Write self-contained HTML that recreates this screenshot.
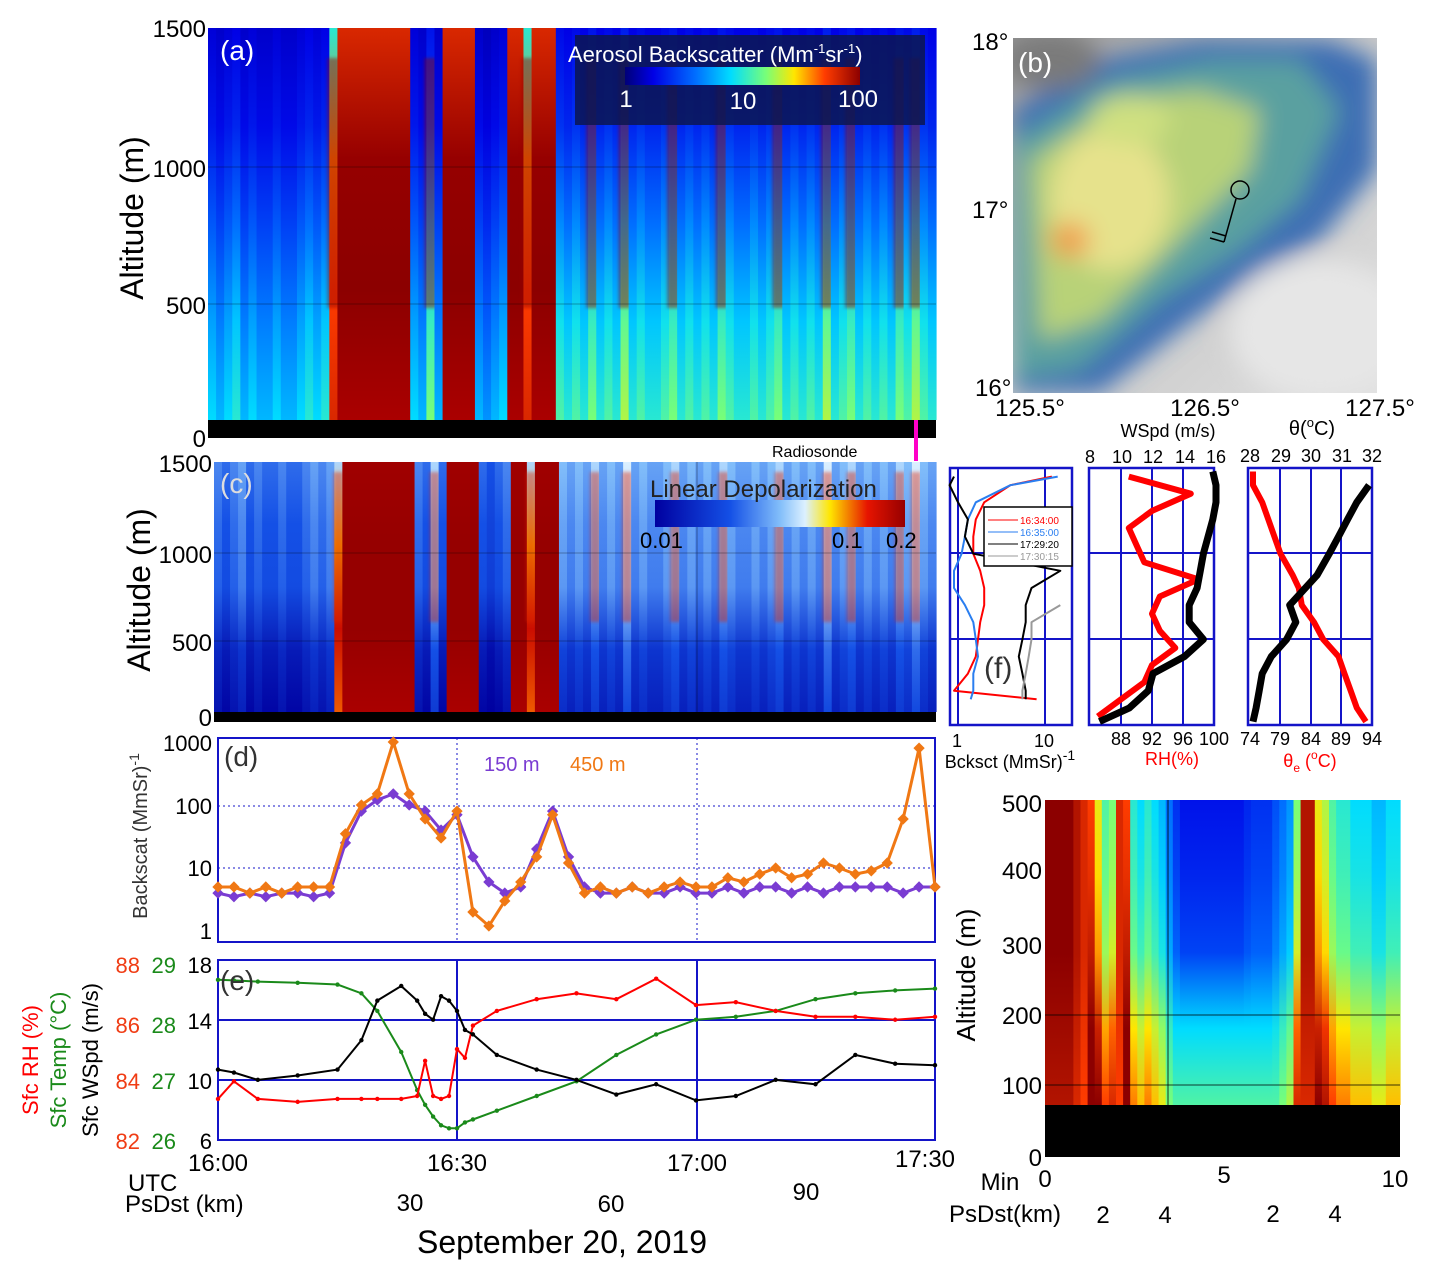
<!DOCTYPE html>
<html><head><meta charset="utf-8"><style>
body{margin:0;background:#fff;}
svg text{font-family:"Liberation Sans","DejaVu Sans",sans-serif;}
</style></head><body>
<svg id="fig" width="1430" height="1276" xmlns="http://www.w3.org/2000/svg">
<defs>
<filter id="blur" x="-20%" y="-20%" width="140%" height="140%"><feGaussianBlur stdDeviation="12"/></filter>
<filter id="sblur" x="-50%" y="-10%" width="200%" height="120%"><feGaussianBlur stdDeviation="1.5"/></filter>
<clipPath id="mapclip"><rect x="1013" y="38" width="364" height="355"/></clipPath>
<linearGradient id="jetbar" x1="0" x2="1" y1="0" y2="0">
<stop offset="0" stop-color="#000078"/><stop offset="0.12" stop-color="#0000e6"/><stop offset="0.3" stop-color="#006eff"/><stop offset="0.45" stop-color="#00dcff"/><stop offset="0.6" stop-color="#78ff78"/><stop offset="0.72" stop-color="#ffe600"/><stop offset="0.85" stop-color="#ff3c00"/><stop offset="1" stop-color="#8c0000"/></linearGradient>
<linearGradient id="depbar" x1="0" x2="1" y1="0" y2="0">
<stop offset="0" stop-color="#0000a0"/><stop offset="0.3" stop-color="#1450e6"/><stop offset="0.5" stop-color="#82befa"/><stop offset="0.6" stop-color="#dcf0ff"/><stop offset="0.7" stop-color="#ffe600"/><stop offset="0.85" stop-color="#e61400"/><stop offset="1" stop-color="#960000"/></linearGradient>
<linearGradient id="graybg" x1="0" x2="1" y1="0" y2="1"><stop offset="0" stop-color="#9a9a9a"/><stop offset="0.5" stop-color="#c8c8c8"/><stop offset="1" stop-color="#e0e0e0"/></linearGradient>
</defs>

<!-- Panel a -->
<g id="pa"></g>
<rect x="208" y="420" width="728" height="18" fill="#000"/>
<g stroke="#000" stroke-width="0.6" opacity="0.6">
<line x1="208" x2="936" y1="167" y2="167"/><line x1="208" x2="936" y1="304" y2="304"/>
</g>
<g>
<rect x="575" y="35" width="350" height="90" fill="#0c1650" opacity="0.85"/>
<rect x="625" y="67" width="235" height="18" fill="url(#jetbar)"/>
<text x="568" y="62" font-size="22" fill="#fff">Aerosol Backscatter (Mm<tspan font-size="13" dy="-9">-1</tspan><tspan dy="9">sr</tspan><tspan font-size="13" dy="-9">-1</tspan><tspan dy="9">)</tspan></text>
<text x="626" y="107" font-size="24" fill="#fff" text-anchor="middle">1</text>
<text x="743" y="109" font-size="24" fill="#fff" text-anchor="middle">10</text>
<text x="858" y="107" font-size="24" fill="#fff" text-anchor="middle">100</text>
</g>
<text x="220" y="60" font-size="28" fill="#fff">(a)</text>
<g font-size="24" text-anchor="end">
<text x="206" y="37">1500</text><text x="206" y="177">1000</text><text x="206" y="314">500</text><text x="206" y="447">0</text></g>
<text transform="translate(143,218) rotate(-90)" font-size="32" text-anchor="middle">Altitude (m)</text>
<line x1="916" x2="916" y1="420" y2="461" stroke="#ff00c8" stroke-width="4"/>
<text x="772" y="457" font-size="16">Radiosonde</text>

<!-- Panel b map -->
<g clip-path="url(#mapclip)">
<rect x="1013" y="38" width="364" height="355" fill="url(#graybg)"/>
<g filter="url(#blur)">
<path d="M1013 110 L1100 60 L1200 40 L1330 40 L1377 60 L1377 170 L1320 240 L1260 270 L1180 330 L1100 393 L1013 393 Z" fill="#3c6eb4"/>
<path d="M1013 140 L1110 80 L1210 60 L1300 60 L1340 110 L1300 200 L1240 250 L1160 300 L1080 370 L1013 380 Z" fill="#5aa0a0"/>
<path d="M1030 160 L1120 100 L1200 90 L1260 110 L1250 170 L1180 240 L1100 320 L1040 340 Z" fill="#b8d278"/>
<ellipse cx="1110" cy="200" rx="60" ry="70" fill="#e6e28c"/>
<ellipse cx="1070" cy="240" rx="20" ry="18" fill="#f0a050"/>
<ellipse cx="1130" cy="120" rx="40" ry="25" fill="#cfe080"/>
<ellipse cx="1320" cy="330" rx="90" ry="70" fill="#e6e6e6"/>
<ellipse cx="1050" cy="60" rx="50" ry="30" fill="#7a7a7a"/>
</g>
</g>
<g fill="none" stroke="#000" stroke-width="1.5">
<circle cx="1240" cy="190" r="9"/><line x1="1236" y1="199" x2="1224" y2="242"/><line x1="1224" y1="242" x2="1210" y2="238"/><line x1="1226" y1="236" x2="1212" y2="232"/></g>
<text x="1018" y="72" font-size="28" fill="#fff">(b)</text>
<g font-size="24"><text x="972" y="50">18°</text><text x="972" y="218">17°</text><text x="975" y="396">16°</text></g>
<g font-size="24" text-anchor="middle"><text x="1030" y="416">125.5°</text><text x="1205" y="416">126.5°</text><text x="1380" y="416">127.5°</text></g>

<!-- Panel c -->
<g id="pc"></g>
<rect x="214" y="712" width="722" height="10" fill="#000"/>
<g stroke="#000" stroke-width="0.6" opacity="0.6">
<line x1="214" x2="936" y1="553" y2="553"/><line x1="214" x2="936" y1="641" y2="641"/><line x1="697" x2="697" y1="462" y2="722"/></g>
<g>
<rect x="655" y="500" width="250" height="27" fill="url(#depbar)"/>
<text x="650" y="497" font-size="24" fill="#222">Linear Depolarization</text>
<text x="640" y="548" font-size="22">0.01</text><text x="832" y="548" font-size="22">0.1</text><text x="886" y="548" font-size="22">0.2</text></g>
<text x="220" y="493" font-size="28" fill="#ddd">(c)</text>
<g font-size="24" text-anchor="end">
<text x="212" y="472">1500</text><text x="212" y="563">1000</text><text x="212" y="651">500</text><text x="212" y="726">0</text></g>
<text transform="translate(150,590) rotate(-90)" font-size="32" text-anchor="middle">Altitude (m)</text>

<!-- Panel f -->
<g id="pf"></g>
<g font-size="10">
<rect x="984" y="507" width="88" height="59" fill="#fff" stroke="#000" stroke-width="1.5"/>
<line x1="988" x2="1018" y1="520" y2="520" stroke="#f00"/><text x="1020" y="524" fill="#f00">16:34:00</text>
<line x1="988" x2="1018" y1="532" y2="532" stroke="#2a7ef0"/><text x="1020" y="536" fill="#2a7ef0">16:35:00</text>
<line x1="988" x2="1018" y1="544" y2="544" stroke="#000"/><text x="1020" y="548" fill="#000">17:29:20</text>
<line x1="988" x2="1018" y1="556" y2="556" stroke="#999"/><text x="1020" y="560" fill="#999">17:30:15</text></g>
<text x="984" y="678" font-size="30" fill="#333">(f)</text>
<g font-size="18" text-anchor="middle">
<text x="957" y="747">1</text><text x="1044" y="747">10</text>
<text x="1010" y="768" font-size="18">Bcksct (MmSr)<tspan font-size="14" dy="-8">-1</tspan></text>
<text x="1121" y="745">88</text><text x="1152" y="745">92</text><text x="1183" y="745">96</text><text x="1214" y="745">100</text>
<text x="1172" y="765" fill="#f00">RH(%)</text>
<text x="1090" y="463">8</text><text x="1122" y="463">10</text><text x="1153" y="463">12</text><text x="1185" y="463">14</text><text x="1216" y="463">16</text>
<text x="1168" y="437">WSpd (m/s)</text>
<text x="1250" y="462">28</text><text x="1281" y="462">29</text><text x="1311" y="462">30</text><text x="1342" y="462">31</text><text x="1372" y="462">32</text>
<text x="1312" y="435" font-size="20">θ(<tspan font-size="13" dy="-8">o</tspan><tspan dy="8">C)</tspan></text>
<text x="1250" y="745">74</text><text x="1280" y="745">79</text><text x="1311" y="745">84</text><text x="1341" y="745">89</text><text x="1372" y="745">94</text>
<text x="1310" y="767" fill="#f00">θ<tspan font-size="12" dy="5">e</tspan><tspan dy="-5"> (</tspan><tspan font-size="12" dy="-8">o</tspan><tspan dy="8">C)</tspan></text>
</g>

<!-- Panel d -->
<g id="pd"></g>
<g font-size="22" text-anchor="end">
<text x="212" y="751">1000</text><text x="212" y="814">100</text><text x="212" y="876">10</text><text x="212" y="939">1</text></g>
<text transform="translate(147,836) rotate(-90)" font-size="20" text-anchor="middle" fill="#333">Backscat (MmSr)<tspan font-size="14" dy="-8">-1</tspan></text>
<text x="224" y="766" font-size="28" fill="#333">(d)</text>
<text x="484" y="771" font-size="20" fill="#7a3cd2">150 m</text>
<text x="570" y="771" font-size="20" fill="#f07814">450 m</text>

<!-- Panel e -->
<g id="pe"></g>
<text x="220" y="990" font-size="28" fill="#333">(e)</text>
<g font-size="22">
<g text-anchor="end"><text x="212" y="973">18</text><text x="212" y="1029">14</text><text x="212" y="1089">10</text><text x="212" y="1149">6</text></g>
<g fill="#1a8a1a" text-anchor="end"><text x="176" y="973">29</text><text x="176" y="1033">28</text><text x="176" y="1089">27</text><text x="176" y="1149">26</text></g>
<g fill="#f03c14" text-anchor="end"><text x="140" y="973">88</text><text x="140" y="1033">86</text><text x="140" y="1089">84</text><text x="140" y="1149">82</text></g></g>
<text transform="translate(38,1060) rotate(-90)" font-size="22" fill="#f00" text-anchor="middle">Sfc RH (%)</text>
<text transform="translate(66,1060) rotate(-90)" font-size="22" fill="#1a8a1a" text-anchor="middle">Sfc Temp (°C)</text>
<text transform="translate(98,1060) rotate(-90)" font-size="22" fill="#000" text-anchor="middle">Sfc WSpd (m/s)</text>
<g font-size="24" text-anchor="middle">
<text x="218" y="1171">16:00</text><text x="457" y="1171">16:30</text><text x="697" y="1171">17:00</text><text x="925" y="1167">17:30</text></g>
<text x="128" y="1191" font-size="24">UTC</text>
<text x="125" y="1212" font-size="24">PsDst (km)</text>
<g font-size="24" text-anchor="middle"><text x="410" y="1211">30</text><text x="611" y="1212">60</text><text x="806" y="1200">90</text></g>
<text x="562" y="1253" font-size="32" text-anchor="middle">September 20, 2019</text>

<!-- Panel bottom right -->
<g id="pz"></g>
<rect x="1045" y="1105" width="355" height="52" fill="#000"/>
<g stroke="#000" stroke-width="0.8"><line x1="1045" x2="1400" y1="1015" y2="1015"/><line x1="1045" x2="1400" y1="1085" y2="1085"/><line x1="1168" x2="1168" y1="800" y2="1157"/></g>
<g font-size="24" text-anchor="end">
<text x="1042" y="812">500</text><text x="1042" y="879">400</text><text x="1042" y="954">300</text><text x="1042" y="1024">200</text><text x="1042" y="1094">100</text><text x="1042" y="1166">0</text></g>
<text transform="translate(975,975) rotate(-90)" font-size="26" text-anchor="middle">Altitude (m)</text>
<g font-size="24" text-anchor="middle"><text x="1045" y="1187">0</text><text x="1224" y="1183">5</text><text x="1395" y="1187">10</text>
<text x="1000" y="1190">Min</text><text x="1005" y="1222">PsDst(km)</text>
<text x="1103" y="1223">2</text><text x="1165" y="1223">4</text><text x="1273" y="1222">2</text><text x="1335" y="1222">4</text></g>
</svg>
<script>
const NS="http://www.w3.org/2000/svg";
// ---------- data ----------
const aColumns=[0.35,0.3,0.35,0.4,0.3,0.35,0.3,0.3,0.35,0.3,0.3,0.35,0.4,0.35,0.4,0.7,1,1,1,1,1,1,1,1,1,0.35,0.3,0.5,0.3,1,1,1,1,0.3,0.25,0.3,0.35,1,1,0.6,1,1,1,0.45,0.4,0.45,0.4,0.5,0.4,0.45,0.4,0.55,0.4,0.45,0.4,0.4,0.45,0.5,0.4,0.45,0.4,0.45,0.4,0.5,0.45,0.4,0.4,0.45,0.4,0.45,0.5,0.4,0.45,0.4,0.45,0.4,0.55,0.4,0.45,0.5,0.4,0.45,0.4,0.45,0.4,0.5,0.45,0.55,0.45,0.4];
const zoomColumns=[1,1,1,1,0.95,0.9,0.85,0.7,0.55,0.6,0.9,0.85,0.5,0.45,0.5,0.45,0.4,0.3,0.2,0.15,0.15,0.15,0.15,0.15,0.15,0.15,0.15,0.15,0.18,0.2,0.2,0.2,0.25,0.3,0.35,0.6,0.95,0.95,0.7,0.65,0.55,0.5,0.5,0.45,0.45,0.45,0.4,0.4,0.45,0.45];
const dTimes=[0,2,4,6,8,10,12,14,16,18,20,22,24,26,28,30,32,34,36,38,40,42,44,46,48,50,52,54,56,58,60,62,64,66,68,70,72,74,76,78,80,82,84,86,88,90];
const bs150=[4,3.5,4,3.5,4,4,3.5,4,25,80,120,150,100,80,40,70,15,6,4,5,20,80,15,5,4,4,5,4,4,5,4,4,5,4,5,5,4,5,4,5,5,5,5,4,5,5];
const bs450=[5,5,4,5,4,5,5,5,35,100,150,1000,150,60,30,80,2,1.2,3,6,15,70,12,4,5,4,5,4,5,6,5,5,7,6,8,10,7,8,12,10,8,9,12,60,800,5];
const eTimes=[0,2,5,10,15,18,20,23,25,26,27,28,29,30,31,32,35,40,45,50,55,60,65,70,75,80,85,90];
const sfcWspd=[10.8,10.6,10.1,10.4,10.8,12.8,15.5,16.5,15.5,14.6,14.2,15.8,15.5,14.8,13.5,13.2,11.8,10.8,10.1,9.1,9.8,8.7,9.0,10.1,9.8,11.8,11.2,11.1];
const sfcTemp=[28.73,28.72,28.7,28.68,28.65,28.5,28.2,27.5,26.85,26.6,26.4,26.25,26.2,26.2,26.3,26.35,26.5,26.75,27.0,27.45,27.8,28.05,28.1,28.2,28.4,28.5,28.55,28.58];
const sfcRH=[83.4,84.0,83.4,83.3,83.4,83.4,83.4,83.4,83.5,84.7,83.5,83.4,83.5,85.1,84.8,85.9,86.4,86.8,87.0,86.8,87.5,86.6,86.7,86.4,86.2,86.2,86.1,86.2];
const fAltBs=[150,200,300,400,500,600,700,800,900,1000,1100,1200,1300,1400,1450];
const bsRed=[8,0.9,1.3,1.6,1.7,1.8,2,2,1.8,1.5,1.5,1.6,2,4,12];
const bsBlue=[1.4,1.5,1.5,1.7,1.6,1.5,1.2,0.9,0.9,1.1,1.2,1.3,1.6,4,14];
const bsBlack=[6,6,5.5,5,5.5,6,6,7,15,1.5,1.2,1.3,1.0,0.8,0.9];
const fAltGray=[150,200,300,400,500,600,700];
const bsGray=[5.5,5.5,6,6.5,7,7,15];
const fAltRH=[50,150,250,350,450,550,650,750,850,950,1050,1150,1250,1350,1450];
const rhProfile=[85,88,91,92,95,93,92,93,98,91,90,89,92,97,89];
const fAltW=[20,100,200,300,400,500,600,700,800,900,1000,1100,1200,1300,1400,1480];
const wsProfile=[8.6,10.5,11.7,12,14,15.2,14.3,14.3,14.8,15,15.2,15.5,15.8,16,16,15.8];
const fAltTh=[20,100,200,300,400,500,600,700,875,1000,1100,1200,1300,1400];
const thetaProfile=[28.1,28.2,28.3,28.4,28.7,29.2,29.5,29.3,30.2,30.6,30.9,31.2,31.5,31.9];
const fAltThe=[20,100,200,300,400,500,600,700,800,875,1000,1100,1200,1300,1400,1480];
const thetaEProfile=[93,91.5,90.5,89.5,88.5,86,84.5,82.5,82,81,79,78,77,76,74.5,74.5];

// ---------- helpers ----------
function el(tag,attrs,parent){const e=document.createElementNS(NS,tag);for(const k in attrs)e.setAttribute(k,attrs[k]);parent.appendChild(e);return e;}
function interp(stops,v){v=Math.max(0,Math.min(1,v));for(let i=1;i<stops.length;i++){if(v<=stops[i][0]){const a=stops[i-1],b=stops[i],t=(v-a[0])/(b[0]-a[0]);const c=a[1].map((x,j)=>Math.round(x+(b[1][j]-x)*t));return `rgb(${c})`;}}return `rgb(${stops[stops.length-1][1]})`;}
const JET=[[0,[0,0,120]],[0.12,[0,0,230]],[0.3,[0,110,255]],[0.45,[0,220,255]],[0.6,[120,255,120]],[0.72,[255,230,0]],[0.85,[255,60,0]],[1,[140,0,0]]];
const DEP=[[0,[0,0,160]],[0.3,[20,80,230]],[0.5,[130,190,250]],[0.6,[220,240,255]],[0.7,[255,230,0]],[0.85,[230,20,0]],[1,[150,0,0]]];
const defs=document.querySelector('defs');
let gid=0;
function gradCol(g,x,y,w,h,cols){const id='g'+(gid++);const lg=el('linearGradient',{id:id,x1:0,x2:0,y1:0,y2:1},defs);cols.forEach((c,i)=>el('stop',{offset:i/(cols.length-1),'stop-color':c},lg));const r=el('rect',{x:x,y:y,width:w+0.6,height:h,fill:`url(#${id})`},g);return r;}

// ---------- panel a ----------
(function(){const g=document.getElementById('pa');const x0=208,x1=936,y0=28,y1=420;const w=(x1-x0)/aColumns.length;
aColumns.forEach((v,i)=>{let cols;if(v>=0.95)cols=[interp(JET,0.9),'rgb(150,0,0)','rgb(140,0,0)','rgb(170,0,0)'];else if(v>=0.6)cols=[interp(JET,0.5),interp(JET,0.8),interp(JET,0.85),interp(JET,0.9)];else cols=[interp(JET,v*0.3),interp(JET,v*0.45),interp(JET,v*0.75),interp(JET,v+0.02),interp(JET,v+0.1)];
const r=gradCol(g,x0+i*w,y0,w,y1-y0,cols);


if(v>=0.5&&v<0.95){const s=el('rect',{x:x0+i*w-2,y:y0+30,width:w+4,height:250,fill:'rgb(150,0,0)',opacity:0.45,filter:'url(#sblur)'},g);}});})();

// ---------- panel c ----------
(function(){const g=document.getElementById('pc');const x0=214,x1=936,y0=462,y1=712;const w=(x1-x0)/aColumns.length;
aColumns.forEach((v,i)=>{let cols;if(v>=0.95)cols=['rgb(160,0,0)','rgb(150,0,0)','rgb(150,0,0)','rgb(170,0,0)'];else if(v>=0.6)cols=[interp(DEP,0.55),interp(DEP,0.75),interp(DEP,0.9),interp(DEP,0.8)];else cols=[interp(DEP,v+0.05),interp(DEP,v),interp(DEP,v-0.02),interp(DEP,v-0.2),interp(DEP,v-0.28)];
const r=gradCol(g,x0+i*w,y0,w,y1-y0,cols);


if(v>=0.5&&v<0.95){const s=el('rect',{x:x0+i*w-1,y:y0+10,width:w+2,height:150,fill:'rgb(220,30,0)',opacity:0.4,filter:'url(#sblur)'},g);}});})();

// ---------- zoom panel ----------
(function(){const g=document.getElementById('pz');const x0=1045,x1=1400,y0=800,y1=1105;const w=(x1-x0)/zoomColumns.length;
zoomColumns.forEach((v,i)=>{let cols;if(v>=0.9)cols=[interp(JET,v),interp(JET,v),interp(JET,v-0.05)];else cols=[interp(JET,v),interp(JET,v+0.03),interp(JET,v+0.08),interp(JET,Math.max(v+0.22,0.45)),interp(JET,Math.max(v+0.3,0.55))];
const r=gradCol(g,x0+i*w,y0,w,y1-y0,cols);

});})();

// ---------- panel f ----------
(function(){const g=document.getElementById('pf');
const yA=a=>725-a*0.1713;
const boxes=[[950,1072],[1089,1214],[1248,1372]];
boxes.forEach(b=>{const r=el('rect',{x:b[0],y:468,width:b[1]-b[0],height:257,fill:'#fff',stroke:'#1414c8','stroke-width':2.5},g);
[553,639].forEach(y=>el('line',{x1:b[0],x2:b[1],y1:y,y2:y,stroke:'#1414c8','stroke-width':2},g));});
[958,1045].forEach(x=>el('line',{x1:x,x2:x,y1:468,y2:725,stroke:'#1414c8','stroke-width':2},g));
[1121,1152,1183].forEach(x=>el('line',{x1:x,x2:x,y1:468,y2:725,stroke:'#1414c8','stroke-width':2},g));
[1280,1311,1341].forEach(x=>el('line',{x1:x,x2:x,y1:468,y2:725,stroke:'#1414c8','stroke-width':2},g));
const xBs=v=>958+Math.log10(v)*87;
function line(xs,alts,fx,col,sw,name){const pts=xs.map((v,i)=>`${fx(v).toFixed(1)},${yA(alts[i]).toFixed(1)}`).join(' ');const p=el('polyline',{points:pts,fill:'none',stroke:col,'stroke-width':sw,'stroke-linejoin':'round'},g);}
line(bsRed,fAltBs,xBs,'#f00',2,'profile-1634');
line(bsBlue,fAltBs,xBs,'#2a7ef0',2,'profile-1635');
line(bsBlack,fAltBs,xBs,'#000',2,'profile-172920');
line(bsGray,fAltGray,xBs,'#999',2,'profile-173015');
line(rhProfile,fAltRH,v=>1121+(v-88)*7.75,'#f00',6,'rh-profile');
line(wsProfile,fAltW,v=>1090+(v-8)*15.75,'#000',7,'wspd-profile');
line(thetaEProfile,fAltThe,v=>1250+(v-74)*6.1,'#f00',6,'theta-e-profile');
line(thetaProfile,fAltTh,v=>1250+(v-28)*30.5,'#000',7,'theta-profile');})();

// ---------- panel d ----------
(function(){const g=document.getElementById('pd');const x0=218,x1=935;const xT=t=>x0+t*(x1-x0)/90;const yL=v=>931-Math.log10(v)*63;
const fr=el('rect',{x:x0,y:738,width:x1-x0,height:204,fill:'#fff',stroke:'#1414c8','stroke-width':2},g);
[806,868].forEach(y=>el('line',{x1:x0,x2:x1,y1:y,y2:y,stroke:'#1414c8','stroke-dasharray':'2,3'},g));
[457,697].forEach(x=>el('line',{x1:x,x2:x,y1:738,y2:942,stroke:'#1414c8','stroke-dasharray':'2,3'},g));
function series(vals,col,name){const pts=vals.map((v,i)=>`${xT(dTimes[i]).toFixed(1)},${yL(v).toFixed(1)}`).join(' ');const p=el('polyline',{points:pts,fill:'none',stroke:col,'stroke-width':3},g);
vals.forEach((v,i)=>{const m=el('rect',{x:xT(dTimes[i])-4,y:yL(v)-4,width:8,height:8,fill:col,transform:`rotate(45 ${xT(dTimes[i])} ${yL(v)})`},g);});}
series(bs150,'#7a3cd2','bs-150m');series(bs450,'#f07814','bs-450m');})();

// ---------- panel e ----------
(function(){const g=document.getElementById('pe');const x0=218,x1=935;const xT=t=>x0+t*(x1-x0)/90;
const yW=v=>1140-(v-6)*14.67,yTm=v=>1140-(v-26)*58.67,yR=v=>1140-(v-82)*29.33;
const fr=el('rect',{x:x0,y:960,width:x1-x0,height:180,fill:'#fff',stroke:'#1414c8','stroke-width':2},g);
[1020,1080].forEach(y=>el('line',{x1:x0,x2:x1,y1:y,y2:y,stroke:'#1414c8','stroke-width':2},g));
[457,697].forEach(x=>el('line',{x1:x,x2:x,y1:960,y2:1140,stroke:'#1414c8','stroke-width':2},g));
function series(vals,fy,col,name){const pts=vals.map((v,i)=>`${xT(eTimes[i]).toFixed(1)},${fy(v).toFixed(1)}`).join(' ');const p=el('polyline',{points:pts,fill:'none',stroke:col,'stroke-width':2},g);
vals.forEach((v,i)=>{const c=el('circle',{cx:xT(eTimes[i]),cy:fy(v),r:2.2,fill:col},g);});}
series(sfcTemp,yTm,'#1a8a1a','sfc-temp');series(sfcRH,yR,'#f00','sfc-rh');series(sfcWspd,yW,'#000','sfc-wspd');})();
</script>
</body></html>
